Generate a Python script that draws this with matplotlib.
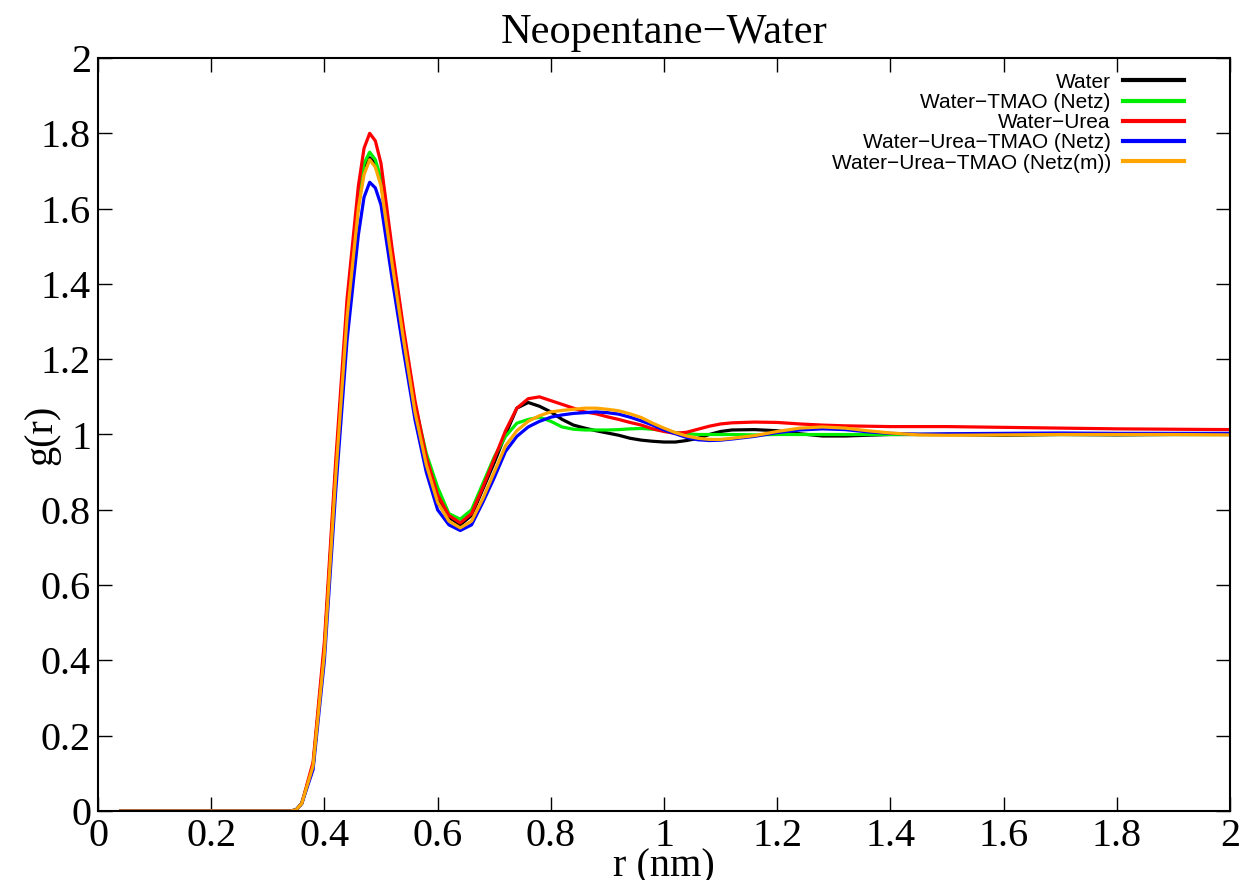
import matplotlib
matplotlib.use("Agg")
import matplotlib.pyplot as plt

r = [0.04, 0.30, 0.34, 0.35, 0.36, 0.38, 0.40, 0.42, 0.44, 0.46, 0.47, 0.48, 0.49, 0.50,
     0.52, 0.54, 0.56, 0.58, 0.60, 0.62, 0.64, 0.66, 0.68, 0.70, 0.72, 0.74, 0.76, 0.78,
     0.80, 0.82, 0.84, 0.86, 0.88, 0.90, 0.92, 0.94, 0.96, 0.98, 1.00, 1.02, 1.04, 1.06,
     1.08, 1.10, 1.12, 1.16, 1.20, 1.24, 1.28, 1.32, 1.36, 1.40, 1.45, 1.50, 1.60, 1.70,
     1.80, 1.90, 2.00]

g_water = [0, 0, 0, 0.003, 0.02, 0.12, 0.43, 0.90, 1.32, 1.61, 1.70, 1.735, 1.72, 1.67,
           1.45, 1.25, 1.07, 0.93, 0.83, 0.78, 0.76, 0.785, 0.855, 0.925, 1.00, 1.07, 1.085, 1.075,
           1.06, 1.04, 1.025, 1.017, 1.01, 1.004, 0.998, 0.99, 0.985, 0.982, 0.98, 0.98, 0.984, 0.99,
           1.0, 1.008, 1.012, 1.013, 1.01, 1.002, 0.996, 0.996, 0.998, 1.0, 1.0, 1.0, 0.998, 1.0,
           0.999, 1.0, 1.0]

g_tmao = [0, 0, 0, 0.003, 0.02, 0.12, 0.43, 0.91, 1.33, 1.62, 1.72, 1.75, 1.73, 1.68,
          1.46, 1.26, 1.08, 0.95, 0.86, 0.79, 0.775, 0.80, 0.87, 0.94, 0.995, 1.03, 1.04, 1.046,
          1.035, 1.02, 1.014, 1.012, 1.012, 1.012, 1.013, 1.015, 1.016, 1.014, 1.01, 1.005, 1.002, 1.0,
          1.0, 1.0, 1.0, 0.999, 1.0, 1.0, 1.0, 1.0, 1.0, 1.0, 1.0, 1.0, 1.0, 1.0,
          1.0, 1.0, 1.0]

g_urea = [0, 0, 0, 0.003, 0.02, 0.13, 0.45, 0.93, 1.36, 1.66, 1.76, 1.80, 1.78, 1.72,
          1.49, 1.28, 1.09, 0.94, 0.84, 0.785, 0.765, 0.79, 0.86, 0.935, 1.01, 1.07, 1.095, 1.10,
          1.09, 1.08, 1.07, 1.06, 1.055, 1.047, 1.04, 1.032, 1.025, 1.015, 1.008, 1.003, 1.006, 1.014,
          1.022, 1.028, 1.031, 1.033, 1.032, 1.028, 1.025, 1.023, 1.022, 1.021, 1.021, 1.021, 1.019, 1.017,
          1.015, 1.014, 1.013]

g_urea_tmao = [0, 0, 0, 0.003, 0.02, 0.11, 0.40, 0.85, 1.25, 1.53, 1.63, 1.67, 1.655, 1.61,
               1.41, 1.22, 1.04, 0.90, 0.80, 0.76, 0.745, 0.76, 0.82, 0.885, 0.955, 0.995, 1.02, 1.035,
               1.046, 1.052, 1.056, 1.058, 1.06, 1.058, 1.054, 1.046, 1.036, 1.025, 1.012, 1.002, 0.992, 0.986,
               0.984, 0.985, 0.988, 0.995, 1.005, 1.012, 1.015, 1.013, 1.007, 1.003, 1.001, 1.002, 1.003, 1.004,
               1.003, 1.003, 1.003]

g_urea_tmao_m = [0, 0, 0, 0.003, 0.02, 0.12, 0.42, 0.89, 1.31, 1.60, 1.69, 1.73, 1.71, 1.66,
                 1.45, 1.25, 1.06, 0.92, 0.82, 0.77, 0.752, 0.77, 0.83, 0.90, 0.97, 1.01, 1.035, 1.05,
                 1.06, 1.064, 1.067, 1.07, 1.07, 1.067, 1.063, 1.055, 1.045, 1.03, 1.017, 1.005, 0.996, 0.99,
                 0.987, 0.987, 0.99, 0.997, 1.008, 1.017, 1.02, 1.017, 1.01, 1.004, 0.999, 0.998, 0.999, 1.0,
                 1.0, 1.0, 0.999]

series = [
    ("Water", g_water, "#000000"),
    ("Water\u2212TMAO (Netz)", g_tmao, "#00ee00"),
    ("Water\u2212Urea", g_urea, "#ff0000"),
    ("Water\u2212Urea\u2212TMAO (Netz)", g_urea_tmao, "#0000ff"),
    ("Water\u2212Urea\u2212TMAO (Netz(m))", g_urea_tmao_m, "#ffa500"),
]

title = "Neopentane\u2212Water"
xlabel = "r (nm)"
ylabel = "g(r)"
xticks = [0, 0.2, 0.4, 0.6, 0.8, 1.0, 1.2, 1.4, 1.6, 1.8, 2.0]
xticklabels = ["0", "0.2", "0.4", "0.6", "0.8", "1", "1.2", "1.4", "1.6", "1.8", "2"]
yticks = [0, 0.2, 0.4, 0.6, 0.8, 1.0, 1.2, 1.4, 1.6, 1.8, 2.0]
yticklabels = ["0", "0.2", "0.4", "0.6", "0.8", "1", "1.2", "1.4", "1.6", "1.8", "2"]

serif = ["Liberation Serif", "DejaVu Serif"]
sans = ["Liberation Sans", "DejaVu Sans"]

fig = plt.figure(figsize=(12.48, 8.8), dpi=100)
ax = fig.add_axes([98 / 1248, 69 / 880, (1230 - 98) / 1248, (811 - 58) / 880])

for label, g, c in series:
    ax.plot(r, g, color=c, lw=2.3, label=label)

ax.set_xlim(0, 2)
ax.set_ylim(0, 2)
ax.set_xticks(xticks)
ax.set_xticklabels(xticklabels, family=serif, fontsize=29)
ax.set_yticks(yticks)
ax.set_yticklabels(yticklabels, family=serif, fontsize=29)
ax.tick_params(direction="in", length=10, width=1, top=True, right=True, pad=5)
for s in ax.spines.values():
    s.set_linewidth(1.5)

ax.set_title(title, family=serif, fontsize=30.5, pad=11)
ax.set_xlabel(xlabel, family=serif, fontsize=29, labelpad=-5)
ax.set_ylabel(ylabel, family=serif, fontsize=29, labelpad=-14)

leg = ax.legend(loc="upper right", bbox_to_anchor=(0.972, 1.0), frameon=False,
                markerfirst=False, prop={"family": sans, "size": 15},
                handlelength=2.9, handletextpad=0.6, labelspacing=0.06, borderpad=0.2)
for line in leg.get_lines():
    line.set_linewidth(3)

fig.savefig("out.png", dpi=100)
